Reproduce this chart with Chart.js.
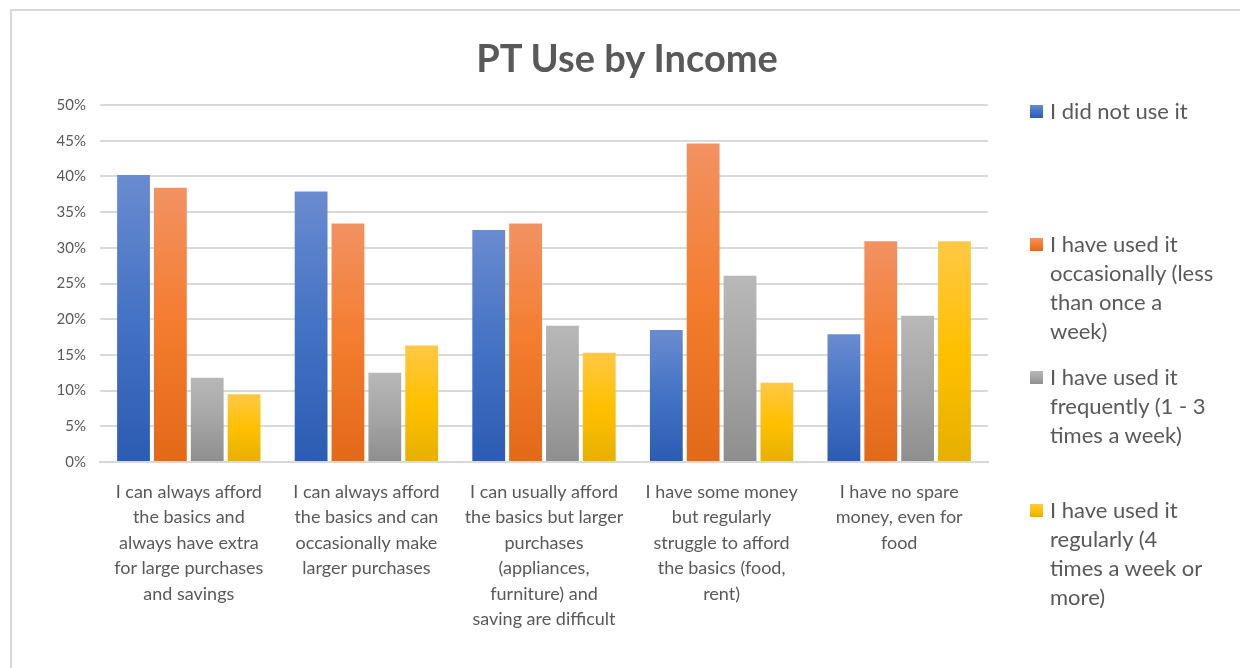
<!DOCTYPE html>
<html>
<head>
<meta charset="utf-8">
<script src="https://cdn.jsdelivr.net/npm/chart.js@4"></script>
<style>
body { margin: 0; background: #fff; font-family: Lato, sans-serif; }
#wrap { position: relative; width: 1240px; height: 668px; overflow: hidden; }
#frame { position: absolute; left: 10px; top: 9px; width: 1260px; height: 700px; border: 2px solid #d9d9d9; box-sizing: border-box; }
#title { position: absolute; left: 0; width: 1254px; top: 34px; text-align: center; font-size: 38px; font-weight: bold; color: #595959; }
canvas { position: absolute; left: 0; top: 0; }
#legend { position: absolute; left: 1030px; top: 0; }
.item { position: absolute; left: 0; width: 210px; display: flex; }
.sw { width: 13px; height: 13px; margin-top: 9px; margin-right: 7px; flex: none; }
.txt { font-size: 22px; line-height: 29px; color: #595959; width: 190px; white-space: nowrap; }
</style>
</head>
<body>
<div id="wrap">
  <div id="frame"></div>
  <canvas id="chart" width="1240" height="668"></canvas>
  <div id="title">PT Use by Income</div>
  <div id="legend"></div>
</div>
<script>
// Datos
const categories = [
    ['I can always afford', 'the basics and', 'always have extra', 'for large purchases', 'and savings'],
    ['I can always afford', 'the basics and can', 'occasionally make', 'larger purchases'],
    ['I can usually afford', 'the basics but larger', 'purchases', '(appliances,', 'furniture) and', 'saving are difficult'],
    ['I have some money', 'but regularly', 'struggle to afford', 'the basics (food,', 'rent)'],
    ['I have no spare', 'money, even for', 'food']
];
// Nombres de las series, ya partidos como en la leyenda original
const seriesNames = [
    ['I did not use it'],
    ['I have used it', 'occasionally (less', 'than once a', 'week)'],
    ['I have used it', 'frequently (1 - 3', 'times a week)'],
    ['I have used it', 'regularly (4', 'times a week or', 'more)']
];
const didNotUse = [40.2, 37.9, 32.5, 18.5, 17.9];
const occasionally = [38.4, 33.4, 33.4, 44.6, 30.9];
const frequently = [11.8, 12.5, 19.1, 26.1, 20.5];
const regularly = [9.5, 16.3, 15.3, 11.1, 30.9];
const yTicks = [0, 5, 10, 15, 20, 25, 30, 35, 40, 45, 50];

// Degradados estilo Office (arriba claro, abajo oscuro)
const palettes = [
    ['#6a8bd0', '#4472c4', '#2c5bb3'],
    ['#f29262', '#f47c2e', '#e26918'],
    ['#b8b8b8', '#a5a5a5', '#8e8e8e'],
    ['#ffc845', '#ffc000', '#e6b000']
];

function barFill(stops) {
    return function (ctx) {
        const chart = ctx.chart;
        const area = chart.chartArea;
        if (!area || ctx.type !== 'data' || !chart.scales.y) return stops[1];
        const top = chart.scales.y.getPixelForValue(ctx.raw);
        const g = chart.ctx.createLinearGradient(0, top, 0, area.bottom);
        g.addColorStop(0, stops[0]);
        g.addColorStop(0.5, stops[1]);
        g.addColorStop(1, stops[2]);
        return g;
    };
}

const values = [didNotUse, occasionally, frequently, regularly];
const datasets = values.map((data, i) => ({
    label: seriesNames[i].join(' '),
    data: data,
    backgroundColor: barFill(palettes[i]),
    borderWidth: 0,
    categoryPercentage: 0.83,
    barPercentage: 0.89
}));

Chart.defaults.font.family = 'Lato, sans-serif';
Chart.defaults.color = '#595959';

const ctx = document.getElementById('chart').getContext('2d');
const chart = new Chart(ctx, {
    type: 'bar',
    data: { labels: categories, datasets: datasets },
    options: {
        responsive: false,
        animation: false,
        layout: { padding: { left: 50, right: 252, top: 105, bottom: 0 } },
        scales: {
            x: {
                grid: { display: false },
                border: { color: '#d9d9d9', width: 2 },
                ticks: {
                    font: { size: 18, lineHeight: 1.42 },
                    color: '#595959',
                    padding: 9,
                    maxRotation: 0,
                    autoSkip: false
                },
                afterFit: (scale) => { scale.height = 206; }
            },
            y: {
                min: 0,
                max: 50,
                afterBuildTicks: (scale) => { scale.ticks = yTicks.map(v => ({ value: v })); },
                grid: { color: '#d9d9d9', lineWidth: 2, drawTicks: false },
                border: { display: false },
                ticks: {
                    font: { size: 15 },
                    color: '#595959',
                    padding: 14,
                    callback: (v) => v + '%'
                },
                afterFit: (scale) => { scale.width = 50; }
            }
        },
        plugins: {
            legend: { display: false },
            tooltip: { enabled: false }
        }
    }
});

// Leyenda a la derecha, una línea de texto por elemento del nombre
const legend = document.getElementById('legend');
const legendTops = [96, 229, 362, 495];
seriesNames.forEach((lines, i) => {
    const item = document.createElement('div');
    item.className = 'item';
    item.style.top = legendTops[i] + 'px';
    const sw = document.createElement('div');
    sw.className = 'sw';
    sw.style.background = 'linear-gradient(' + palettes[i].join(',') + ')';
    const txt = document.createElement('div');
    txt.className = 'txt';
    lines.forEach((line, j) => {
        if (j > 0) txt.appendChild(document.createElement('br'));
        txt.appendChild(document.createTextNode(line));
    });
    item.appendChild(sw);
    item.appendChild(txt);
    legend.appendChild(item);
});
</script>
</body>
</html>
